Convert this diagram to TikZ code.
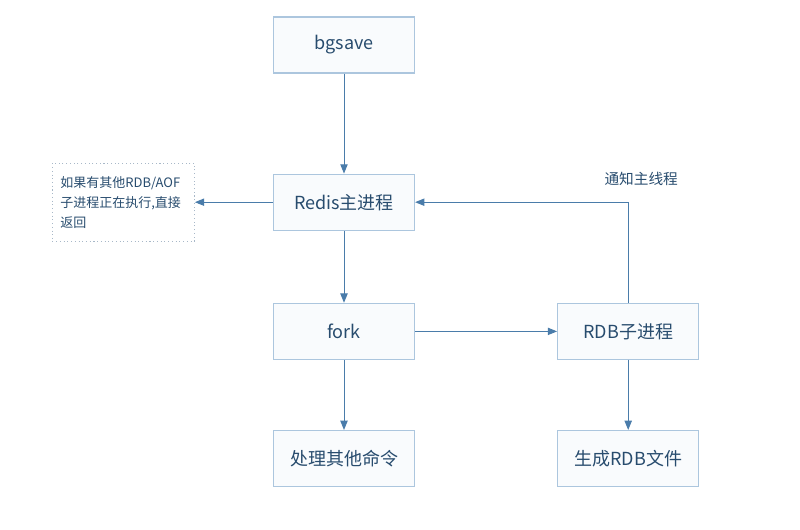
\documentclass[tikz,border=0pt]{standalone}
\usepackage{fontspec}
\setmainfont{Noto Sans CJK SC}
\usepackage{xcolor}
\definecolor{boxline}{RGB}{172, 198, 222}
\definecolor{boxfill}{RGB}{249, 251, 253}
\definecolor{boxtext}{RGB}{40, 76, 110}
\definecolor{flow}{RGB}{74, 124, 170}
\definecolor{noteline}{RGB}{168, 184, 200}
\usepackage{tikz}
\usetikzlibrary{arrows.meta, positioning}
\tikzstyle{stage} = [rectangle, draw=boxline, fill=boxfill, line width=0.9pt, text=boxtext, minimum width=105.75pt, minimum height=42pt, font=\fontsize{13.5}{16}\selectfont]
\tikzstyle{note} = [rectangle, draw=noteline, dotted, line width=0.8pt, text=boxtext, align=left, text width=94.5pt, inner sep=6pt, minimum height=58.5pt, font=\fontsize{9.75}{15}\selectfont]
\tikzstyle{arrow} = [draw=flow, line width=0.75pt, -{Triangle[length=7pt, width=5.5pt]}]

\begin{document}
\begin{tikzpicture}
    \useasboundingbox (0,0) rectangle (600pt,-397.5pt);
    \node[stage] (bgsave) at (258pt,-33.75pt) {bgsave};
    \node[stage, below=75pt of bgsave] (redis) {Redis主进程};
    \node[stage, below=54pt of redis] (fork) {fork};
    \node[stage, below=52.5pt of fork] (other) {处理其他命令};
    \node[stage, right=106.5pt of fork] (child) {RDB子进程};
    \node[stage, below=52.5pt of child] (rdbfile) {生成RDB文件};
    \node[note, left=58.5pt of redis] (busy) {如果有其他RDB/AOF\\子进程正在执行,直接\\返回};

    \draw[arrow] (bgsave) -- (redis);
    \draw[arrow] (redis) -- (busy);
    \draw[arrow] (redis) -- (fork);
    \draw[arrow] (fork) -- (other);
    \draw[arrow] (fork) -- (child);
    \draw[arrow] (child) -- (rdbfile);
    \draw[arrow] (child.north) |- node[pos=0.5, xshift=9.75pt, yshift=17.25pt, text=boxtext, font=\fontsize{11}{13}\selectfont] {通知主线程} (redis.east);
\end{tikzpicture}
\end{document}
